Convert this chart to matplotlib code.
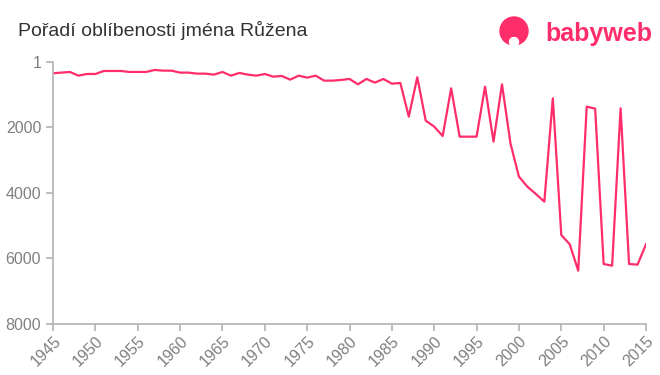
import matplotlib.pyplot as plt
from matplotlib.patches import Ellipse

plt.rcParams['font.family'] = ['Liberation Sans', 'DejaVu Sans']

# data
years = list(range(1945, 2016))
rank = [345, 325, 305, 418, 367, 367, 275, 275, 275, 305,
        305, 305, 244, 265, 265, 325, 325, 356, 356, 387,
        305, 418, 335, 387, 418, 367, 448, 428, 540, 418,
        478, 418, 570, 570, 550, 519, 682, 519, 631, 519,
        662, 641, 1669, 468, 1792, 1975, 2260, 804, 2280, 2280,
        2280, 753, 2433, 682, 2484, 3501, 3807, 4031, 4265, 1109,
        5282, 5567, 6372, 1364, 1425, 6168, 6219, 1415, 6168, 6188,
        5567]
yticks = [1, 2000, 4000, 6000, 8000]
xticks = list(range(1945, 2016, 5))

pink = '#ff2d6a'
grey = '#b3b3b3'

fig = plt.figure(figsize=(6.6, 3.75), dpi=100)
ax = fig.add_axes([53 / 660, 1 - 324 / 375, 593 / 660, 262 / 375])

ax.plot(years, rank, color=pink, linewidth=1.6)

ax.set_xlim(1945, 2015)
ax.set_ylim(8000, 1)
ax.set_yticks(yticks)
ax.set_xticks(xticks)
ax.set_xticklabels([str(x) for x in xticks], rotation=45, ha='right',
                   rotation_mode='anchor')

for s in ['top', 'right']:
    ax.spines[s].set_visible(False)
for s in ['left', 'bottom']:
    ax.spines[s].set_color(grey)
    ax.spines[s].set_linewidth(1.2)
ax.tick_params(colors=grey, labelcolor='#808080', labelsize=11.5,
               length=5, width=1.2)
ax.tick_params(axis='x', pad=2)

fig.text(18 / 660, 1 - 30 / 375, 'Pořadí oblíbenosti jména Růžena',
         fontsize=14, color='#333333', va='center', ha='left')

# logo
fig.text(652 / 660, 1 - 34 / 375, 'babyweb', fontsize=18, color=pink,
         fontweight='bold', va='center', ha='right')
fig.patches.append(Ellipse((514 / 660, 1 - 31 / 375), 28 / 660, 28 / 375,
                           transform=fig.transFigure, color=pink,
                           figure=fig))
fig.patches.append(Ellipse((514 / 660, 1 - 42 / 375), 9 / 660, 9 / 375,
                           transform=fig.transFigure, color='white',
                           figure=fig))

fig.savefig('out.png', dpi=100)
